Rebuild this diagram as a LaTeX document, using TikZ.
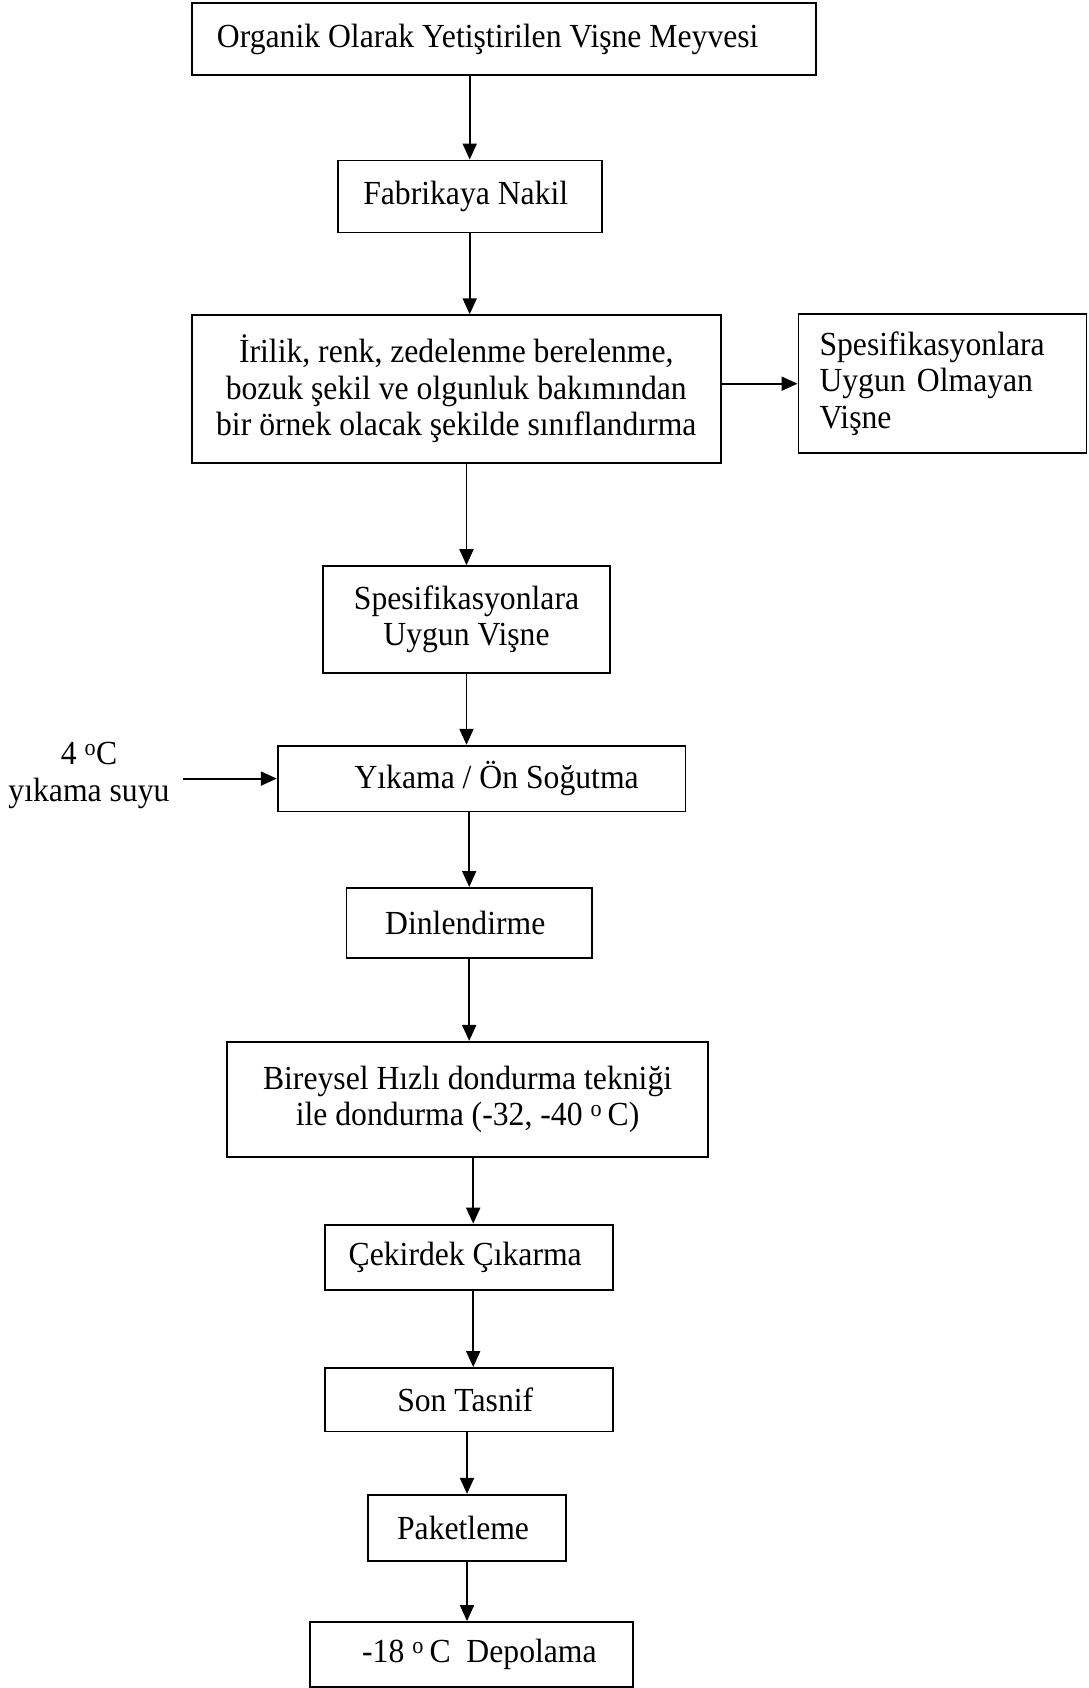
\documentclass[tikz,border=0pt]{standalone}
\usepackage{fontspec}
\setmainfont{Liberation Serif}[FakeStretch=0.94]
\usepackage{tikz}
\usetikzlibrary{arrows.meta, positioning, calc}

\begin{document}
\begin{tikzpicture}[x=1pt, y=-1pt,
    box/.style={draw, line width=1.9pt, inner sep=0pt, align=center, font=\fontsize{33.7}{36.6}\selectfont},
    note/.style={align=center, font=\fontsize{33.7}{36.6}\selectfont},
    arrow/.style={-{Triangle[length=16pt, width=14pt]}, line width=1.9pt}
  ]
    \useasboundingbox (0, 0) rectangle (1088, 1688);

    % Raw material
    \node[box, minimum width=624pt, minimum height=72pt] (fruit) at (503.7, 39.3) {
      Organik Olarak Yetiştirilen Vişne Meyvesi\hspace*{24pt}
    };

    % Transport
    \node[box, minimum width=263.7pt, minimum height=72pt] (fab) at (469.7, 196.5) {
      Fabrikaya Nakil
    };

    % Sorting
    \node[box, minimum width=529.5pt, minimum height=147.5pt] (sort) at (456.3, 389) {
      İrilik, renk, zedelenme berelenme,\\
      bozuk şekil ve olgunluk bakımından\\
      bir örnek olacak şekilde sınıflandırma
    };

    % Rejected fruit
    \node[box, align=left, text width=246pt, inner xsep=21pt, minimum height=138.8pt] (reject) at (942.5, 383.7) {
      Spesifikasyonlara\\
      Uygun Olmayan\\
      Vişne
    };

    % Accepted fruit
    \node[box, minimum width=287.3pt, minimum height=106.5pt] (spec) at (466.5, 619.4) {
      Spesifikasyonlara\\
      Uygun Vişne
    };

    % Washing
    \node[box, minimum width=407.8pt, minimum height=65.7pt] (wash) at (481.6, 778.6) {
      \hspace*{38pt}Yıkama / Ön Soğutma
    };

    % Wash water
    \node[note] (water) at (89, 775.5) {
      4 \textsuperscript{o}C\\
      yıkama suyu
    };

    % Resting
    \node[box, minimum width=245.4pt, minimum height=69.9pt] (rest) at (469.2, 922.9) {
      Dinlendirme
    };

    % Freezing
    \node[box, minimum width=481pt, minimum height=115.1pt] (freeze) at (467.6, 1099.4) {
      Bireysel Hızlı dondurma tekniği\\
      ile dondurma (-32, -40 \textsuperscript{o}\,C)
    };

    % Pitting
    \node[box, minimum width=288.4pt, minimum height=65.7pt] (pit) at (469.2, 1257.5) {
      Çekirdek Çıkarma
    };

    % Final grading
    \node[box, minimum width=288.4pt, minimum height=63.5pt] (grade) at (469.2, 1399.7) {
      Son Tasnif
    };

    % Packing
    \node[box, minimum width=198pt, minimum height=65.7pt] (pack) at (467, 1527.7) {
      Paketleme
    };

    % Storage
    \node[box, minimum width=322.8pt, minimum height=65pt] (store) at (471.4, 1654.5) {
      \hspace*{24pt}-18 \textsuperscript{o}\,C\ \ Depolama
    };

    % Arrows
    \draw[arrow] (fab.north |- fruit.south) -- (fab.north);
    \draw[arrow] (fab.south) -- (fab.south |- sort.north);
    \draw[arrow] (sort.east |- reject.west) -- (reject.west);
    \draw[arrow] (spec.north |- sort.south) -- (spec.north);
    \draw[arrow] (spec.south) -- (spec.south |- wash.north);
    \draw[arrow, shorten <=10pt] (water.east |- wash.west) -- (wash.west);
    \draw[arrow] (rest.north |- wash.south) -- (rest.north);
    \draw[arrow] (rest.south) -- (rest.south |- freeze.north);
    \draw[arrow] ([xshift=4pt]pit.north |- freeze.south) -- ([xshift=4pt]pit.north);
    \draw[arrow] ([xshift=4pt]pit.south) -- ([xshift=4pt]pit.south |- grade.north);
    \draw[arrow] (pack.north |- grade.south) -- (pack.north);
    \draw[arrow] (pack.south) -- (pack.south |- store.north);

\end{tikzpicture}
\end{document}
